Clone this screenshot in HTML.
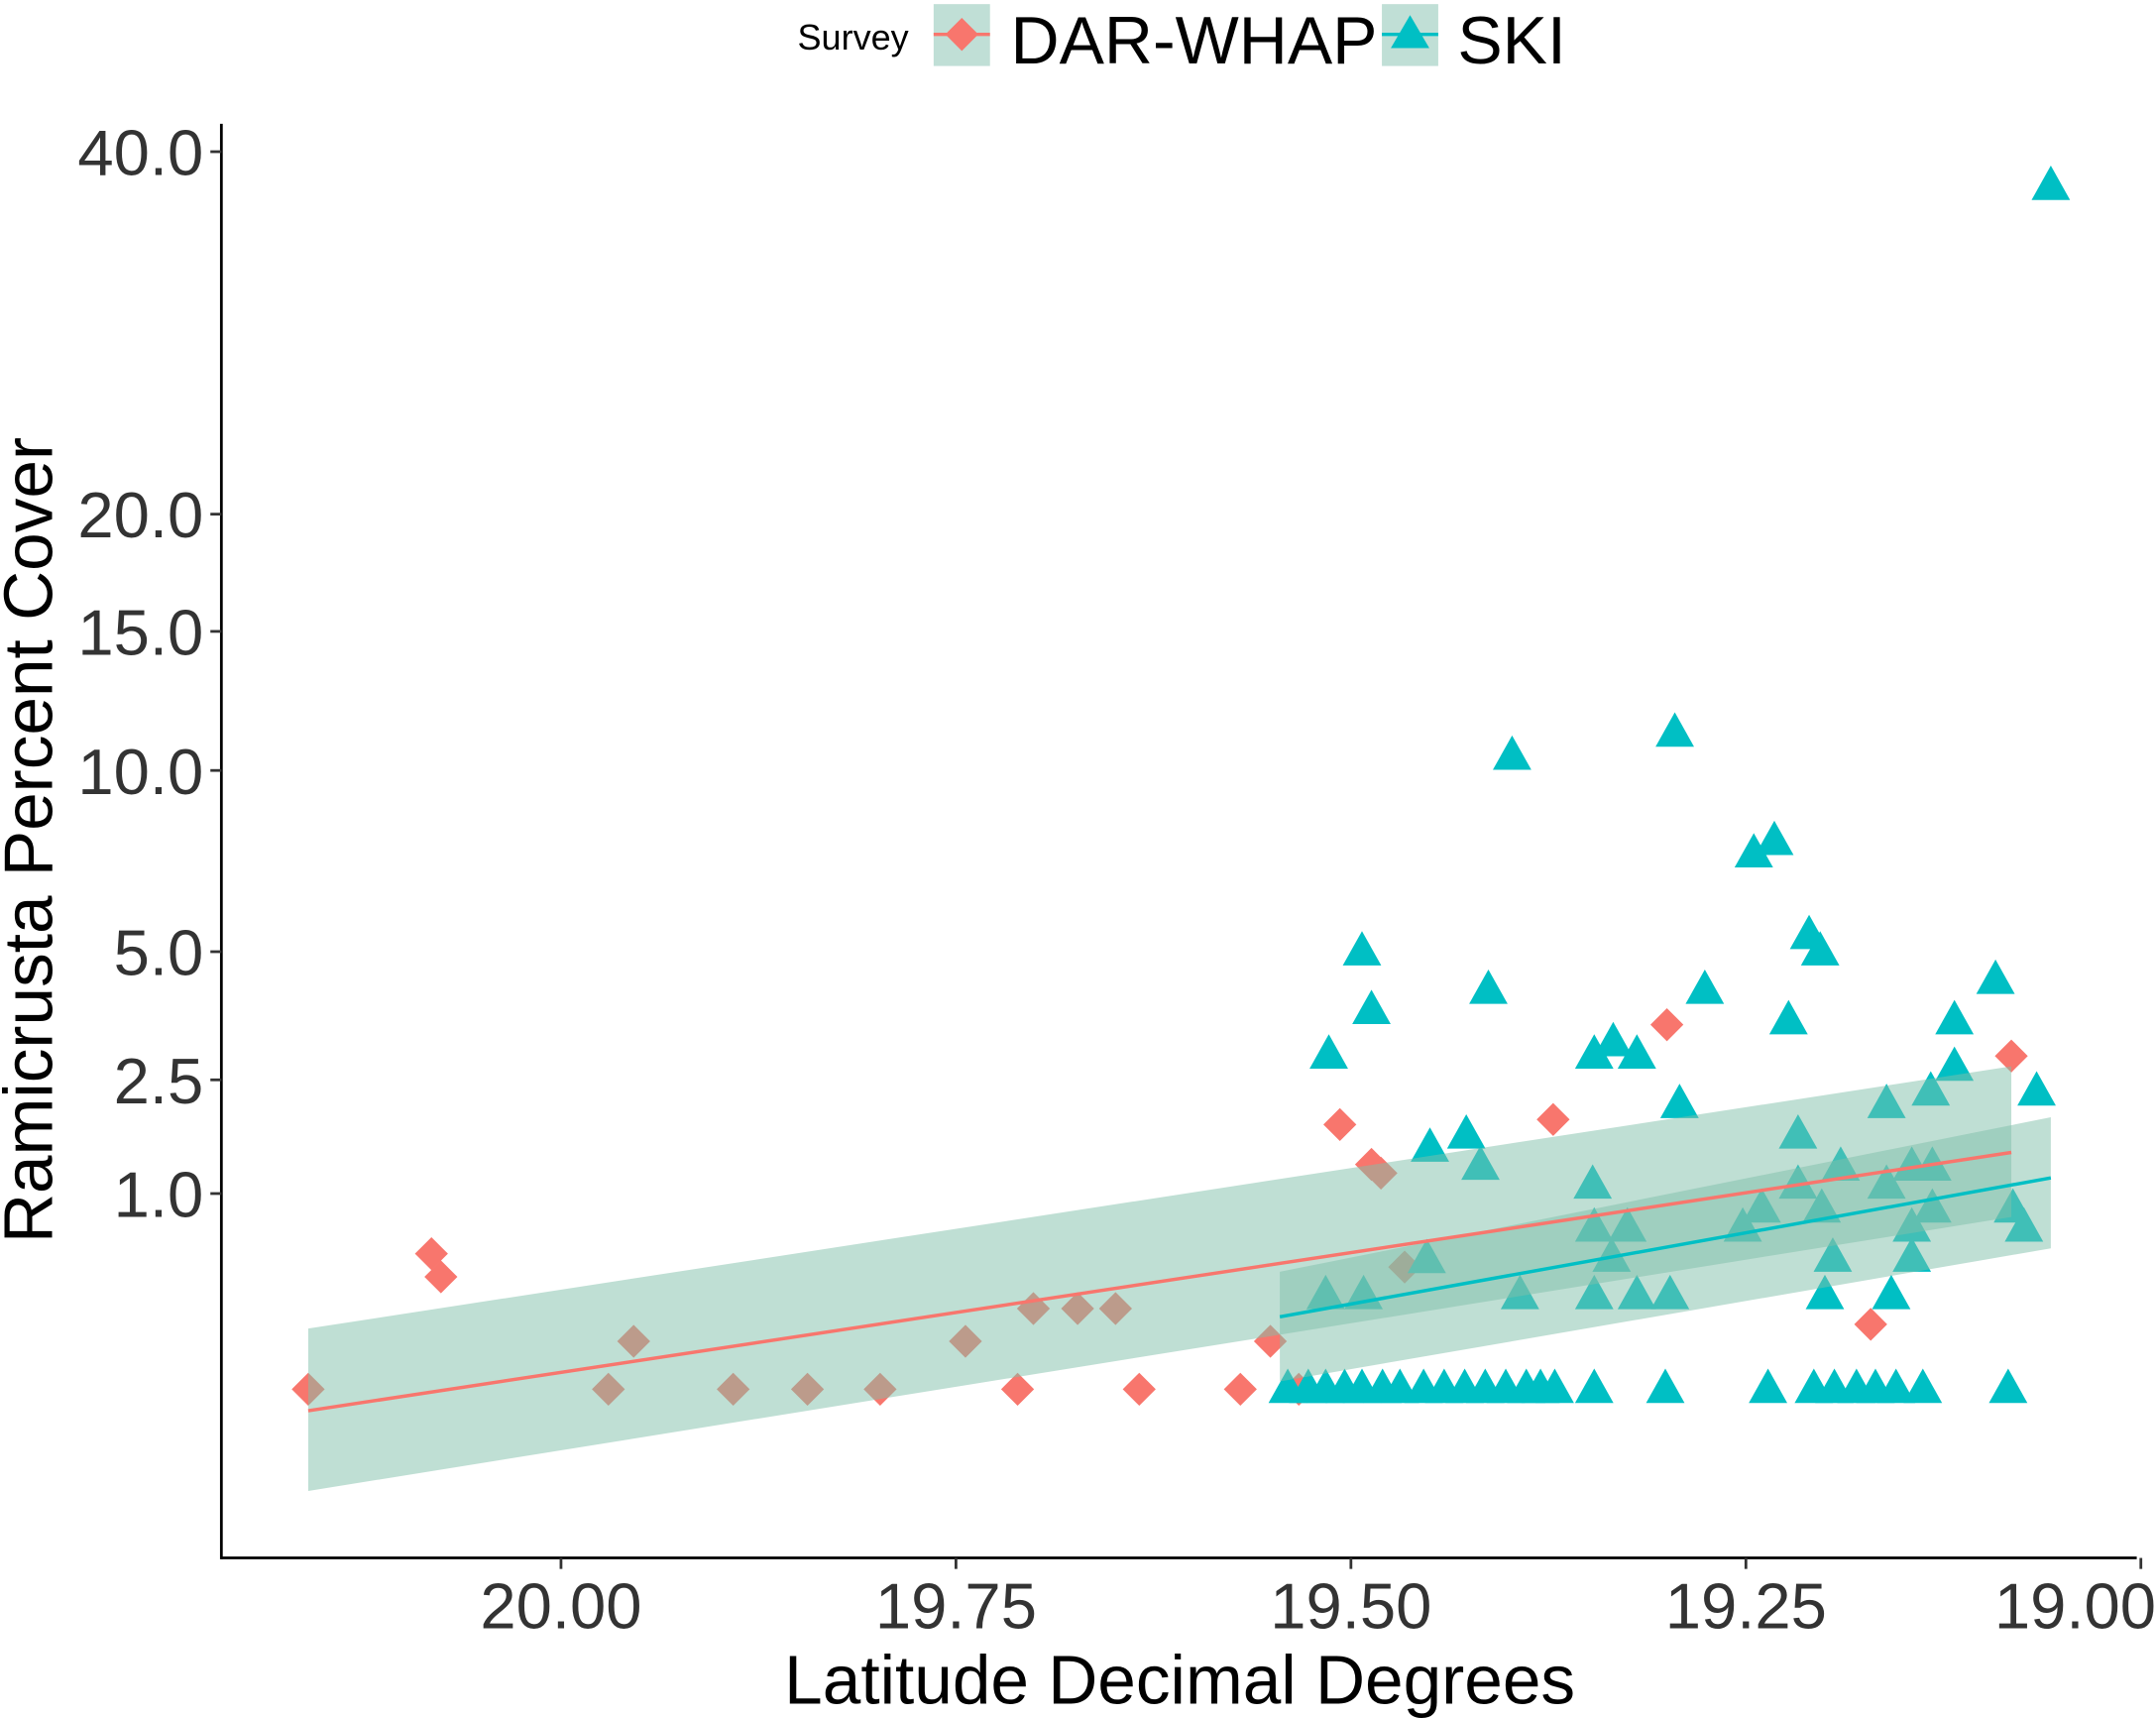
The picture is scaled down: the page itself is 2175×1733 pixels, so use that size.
<!DOCTYPE html>
<html><head><meta charset="utf-8"><style>
html,body{margin:0;padding:0;background:#fff;}
svg{display:block;font-family:"Liberation Sans",Arial,sans-serif;}
</style></head><body>
<svg id="chart" width="2175" height="1733" viewBox="0 0 1568 1249.4" preserveAspectRatio="none" xmlns="http://www.w3.org/2000/svg">
<g id="legend">
  <text x="580" y="36" font-size="26" fill="#000">Survey</text>
  <g>
    <rect x="679" y="3" width="41" height="45" fill="#8cc5b5" opacity="0.55"/>
    <line x1="679" y1="25" x2="720" y2="25" stroke="#F8766D" stroke-width="2.5"/>
    <polygon points="699.5,13 711.5,25 699.5,37 687.5,25" fill="#F8766D"/>
    <text x="735" y="46" font-size="49" fill="#000">DAR-WHAP</text>
  </g>
  <g>
    <rect x="1005" y="3" width="41" height="45" fill="#8cc5b5" opacity="0.55"/>
    <line x1="1005" y1="25" x2="1046" y2="25" stroke="#00BFC4" stroke-width="2.5"/>
    <polygon points="1025.5,11 1039.5,35 1011.5,35" fill="#00BFC4"/>
    <text x="1060" y="46" font-size="49" fill="#000">SKI</text>
  </g>
</g>
<g id="marks"></g>
<g id="axes"></g>
</svg>
<script>
const redLat=[20.16,20.082,20.076,19.97,19.954,19.891,19.844,19.798,19.744,19.711,19.701,19.673,19.649,19.634,19.570,19.551,19.533,19.507,19.487,19.481,19.466,19.372,19.300,19.171,19.082];
const redVal=[0,0.48,0.33,0,0.06,0,0,0,0.06,0,0.17,0.17,0.17,0,0,0.06,0,1.83,1.32,1.22,0.39,1.90,3.47,0.11,2.90];
const skiLat=[19.493,19.514,19.487,19.413,19.398,19.295,19.245,19.232,19.210,19.203,19.276,19.223,19.346,19.334,19.319,19.292,19.450,19.427,19.418,19.452,19.516,19.492,19.393,19.346,19.319,19.298,19.347,19.346,19.335,19.325,19.252,19.240,19.217,19.217,19.202,19.195,19.200,19.190,19.161,19.161,19.158,19.145,19.132,19.145,19.145,19.132,19.133,19.118,19.118,19.092,19.081,19.074,19.066,19.057,
19.540,19.527,19.516,19.504,19.493,19.480,19.469,19.454,19.441,19.428,19.415,19.402,19.389,19.380,19.371,19.346,19.301,19.236,19.207,19.194,19.180,19.168,19.155,19.138,19.084];
const skiVal=[5.0,2.92,3.75,4.16,10.47,11.25,7.49,7.84,5.38,5.0,4.16,3.55,2.92,3.14,2.92,2.12,1.52,1.69,1.30,0.44,0.23,0.23,0.23,0.23,0.23,0.23,1.09,0.68,0.45,0.68,0.68,0.85,1.69,1.09,0.85,0.45,0.23,1.29,2.12,1.09,0.23,1.29,1.29,0.68,0.45,0.85,2.31,3.55,2.71,4.37,0.85,0.68,2.31,37.8,
0,0,0,0,0,0,0,0,0,0,0,0,0,0,0,0,0,0,0,0,0,0,0,0,0];
// fitted trends in sqrt space (signed sqrt values)
const redFitLat=[20.16,19.082];
const redFitS=[-0.11,1.21];
const redLoS=[-0.52,0.88];
const redHiS=[0.31,1.65];
const skiFitLat=[19.545,19.057];
const skiFitS=[0.37,1.08];
const skiLoS=[0.04,0.72];
const skiHiS=[0.60,1.39];
const xTicks=[20.00,19.75,19.50,19.25,19.00];
const xTickLabels=["20.00","19.75","19.50","19.25","19.00"];
const yTicks=[1,2.5,5,10,15,20,40];
const yTickLabels=["1.0","2.5","5.0","10.0","15.0","20.0","40.0"];

const NS="http://www.w3.org/2000/svg";
const X=lat=>408+(20-lat)*1149;
const YS=s=>868-(s-1)*142.3;
const Y=v=>YS(Math.sqrt(v));
const marks=document.getElementById('marks'), axes=document.getElementById('axes');
function mk(tag,attrs,parent){const e=document.createElementNS(NS,tag);for(const k in attrs)e.setAttribute(k,attrs[k]);parent.appendChild(e);return e;}

redLat.forEach((lat,i)=>{const x=X(lat),y=Y(redVal[i]);
  const p=mk('polygon',{points:`${x},${y-12} ${x+12},${y} ${x},${y+12} ${x-12},${y}`,fill:'#F8766D'},marks);
  
  });
skiLat.forEach((lat,i)=>{const x=X(lat),y=Y(skiVal[i]);
  const p=mk('polygon',{points:`${x},${y-15} ${x+14},${y+10} ${x-14},${y+10}`,fill:'#00BFC4'},marks);
  
  });
function ribbon(lats,lo,hi,name){const pts=[];for(let i=0;i<lats.length;i++)pts.push(X(lats[i])+','+YS(hi[i]));for(let i=lats.length-1;i>=0;i--)pts.push(X(lats[i])+','+YS(lo[i]));
  const r=mk('polygon',{points:pts.join(' '),fill:'#7fbfaa',opacity:'0.5'},marks);
  
  }
ribbon(redFitLat,redLoS,redHiS,'dar-whap-ci-ribbon');
ribbon(skiFitLat,skiLoS,skiHiS,'ski-ci-ribbon');
function line(lats,s,col,name){const l=mk('polyline',{points:lats.map((a,i)=>X(a)+','+YS(s[i])).join(' '),fill:'none',stroke:col,'stroke-width':2.5},marks);
  
  }
line(redFitLat,redFitS,'#F8766D','dar-whap-trend-line');
line(skiFitLat,skiFitS,'#00BFC4','ski-trend-line');

const xa=mk('line',{x1:161,y1:1133,x2:1554,y2:1133,stroke:'#000','stroke-width':2},axes);


const ya=mk('line',{x1:161,y1:90,x2:161,y2:1134,stroke:'#000','stroke-width':2},axes);


xTicks.forEach((t,i)=>{const x=X(t);mk('line',{x1:x,y1:1133,x2:x,y2:1141,stroke:'#333','stroke-width':2},axes);
  const tx=mk('text',{x:i===xTicks.length-1?x-45:x,y:1184,'font-size':47,'text-anchor':i===xTicks.length-1?'start':'middle',fill:'#333'},axes);tx.textContent=xTickLabels[i];
  if(i===xTicks.length-1){tx.setAttribute('x',1568);tx.setAttribute('text-anchor','end');}
  
  });
yTicks.forEach((t,i)=>{const y=Y(t);mk('line',{x1:153,y1:y,x2:161,y2:y,stroke:'#333','stroke-width':2},axes);
  const tx=mk('text',{x:148,y:y+17,'font-size':47,'text-anchor':'end',fill:'#333'},axes);tx.textContent=yTickLabels[i];
  
  });
const xt=mk('text',{x:858,y:1239,'font-size':50,'text-anchor':'middle',fill:'#000'},axes);xt.textContent='Latitude Decimal Degrees';


const yt=mk('text',{x:0,y:0,'font-size':50,'text-anchor':'middle',fill:'#000',transform:'translate(38,611) rotate(-90)'},axes);yt.textContent='Ramicrusta Percent Cover';


</script>
</body></html>
